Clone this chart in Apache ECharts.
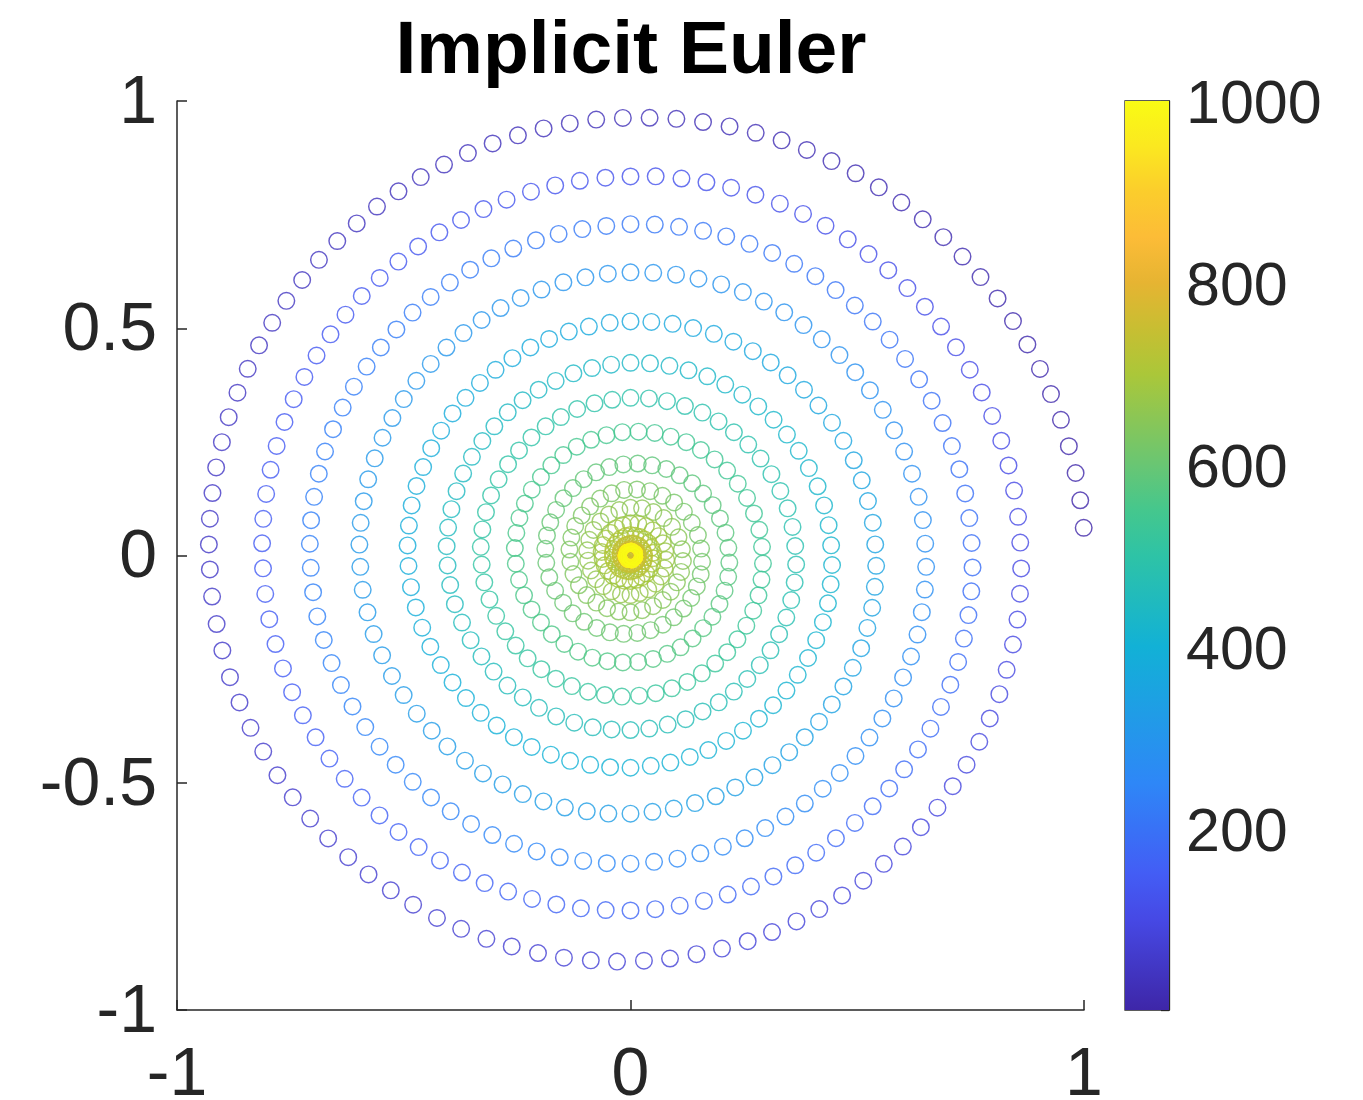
<!DOCTYPE html>
<html>
<head>
<meta charset="utf-8">
<script src="https://cdn.jsdelivr.net/npm/echarts@6/dist/echarts.min.js"></script>
<style>
html,body{margin:0;padding:0;background:#fff;}
#chart{width:1363px;height:1100px;}
</style>
</head>
<body>
<div id="chart"></div>
<script>
// ---- values ----
const titleText = 'Implicit Euler';
const xTicks = [-1, 0, 1];
const yTicks = [-1, -0.5, 0, 0.5, 1];
const colorbarTicks = [200, 400, 600, 800, 1000];
const colorRange = [1, 1000];

// spiral points: radius in thousandths of an axis unit, angle in degrees (counter-clockwise from +x, unwrapped)
const spiralRadius = [
999,997,996,994,993,991,990,989,987,986,984,983,982,980,979,977,976,974,973,972,970,969,967,966,964,963,962,960,959,957,956,955,953,952,950,949,947,946,945,943,942,940,939,937,936,935,933,932,930,929,928,
926,925,923,922,921,919,918,916,915,914,912,911,909,908,906,905,904,902,901,899,898,897,895,894,892,891,889,888,887,885,884,882,881,880,878,877,875,874,872,871,870,868,867,865,864,863,861,860,
858,857,856,855,854,853,852,851,850,849,848,847,846,845,844,843,842,841,840,839,838,837,836,834,833,832,831,830,829,828,827,826,825,824,823,822,821,820,819,818,817,816,815,814,813,812,811,
809,808,807,805,804,803,802,800,799,798,796,795,794,793,791,790,789,787,786,785,784,782,781,780,778,777,776,775,773,772,771,769,768,767,766,764,763,762,760,759,758,756,755,754,753,
751,750,749,748,747,746,745,744,743,742,741,739,738,737,736,735,734,733,732,731,730,729,727,726,725,724,723,722,721,720,719,718,716,715,714,713,712,711,710,709,708,707,706,
704,703,702,700,699,698,696,695,694,692,691,690,688,687,686,684,683,682,680,679,678,676,675,673,672,671,669,668,667,665,664,663,661,660,659,657,656,655,653,652,651,
649,648,647,645,644,642,641,640,638,637,635,634,633,631,630,629,627,626,624,623,622,620,619,617,616,615,613,612,611,609,608,606,605,604,602,601,599,598,597,
595,594,592,591,589,588,586,585,583,582,580,579,577,576,574,573,571,570,568,566,565,563,562,560,559,557,556,554,553,551,550,548,547,545,544,542,541,
539,538,536,535,534,532,531,529,528,526,525,524,522,521,519,518,516,515,514,512,511,509,508,506,505,504,502,501,499,498,496,495,494,492,491,
489,488,486,485,484,482,481,479,478,476,475,474,472,471,469,468,467,465,464,462,461,459,458,457,455,454,452,451,449,448,447,445,444,
442,441,440,439,437,436,435,434,432,431,430,429,427,426,425,424,422,421,420,418,417,416,415,413,412,411,410,408,407,406,405,
403,402,401,399,398,396,395,394,392,391,390,388,387,385,384,383,381,380,378,377,376,374,373,372,370,369,367,366,365,
363,362,361,359,358,357,356,354,353,352,350,349,348,347,345,344,343,341,340,339,337,336,335,334,332,331,330,
328,327,325,324,322,321,320,318,317,315,314,312,311,309,308,306,305,303,302,301,299,298,296,295,293,292,
290,289,287,286,284,283,281,279,278,276,275,273,272,270,269,267,266,264,262,261,259,258,256,255,
253,251,250,248,246,245,243,241,240,238,236,235,233,231,230,228,226,225,223,221,220,218,
216,215,213,212,210,209,207,206,204,203,201,200,198,197,195,194,192,191,189,188,
186,185,183,181,180,178,176,175,173,171,170,168,166,165,163,161,160,158,
156,155,153,152,151,149,148,146,145,143,142,140,139,138,136,135,
133,132,131,130,128,127,126,125,123,122,121,119,118,117,116,
114,113,111,110,108,107,105,103,102,100,99,97,96,
94,93,92,90,89,88,87,85,84,83,81,80,79,
77,76,75,74,73,72,71,69,68,67,66,65,64,
62,61,60,59,58,57,56,55,54,53,52,51,50,
50,49,48,47,46,45,45,44,43,42,41,40,39,
39,38,37,37,36,35,35,34,33,32,32,31,30,
30,29,28,28,27,27,26,25,25,24,24,23,22,
22,21,21,20,20,19,19,19,18,18,17,17,16,
16,15,15,15,14,14,14,13,13,12,12,12,11,
11,11,10,10,10,9,9,9,8,8,8,8,7,
7,7,6,6,6,6,6,5,5,5,5,4,4,
4,4,4,3,3,3,3,3,3,3,2,2,2
];
const spiralAngle = [
3.5,7,10.5,14,17.5,21,24.5,28,31.5,35,38.5,42,45.5,49,52.5,56,59.5,63,66.5,70,73.5,77,80.5,84,87.5,91,94.5,98,101.5,105,108.5,112,115.5,119,122.5,126,129.5,133,136.5,140,143.5,147,150.5,154,157.5,161,164.5,168,171.5,175,178.5,
181.9,185.6,189.4,193.1,196.9,200.6,204.4,208.1,211.9,215.6,219.4,223.1,226.9,230.6,234.4,238.1,241.9,245.6,249.4,253.1,256.9,260.6,264.4,268.1,271.9,275.6,279.4,283.1,286.9,290.6,294.4,298.1,301.9,305.6,309.4,313.1,316.9,320.6,324.4,328.1,331.9,335.6,339.4,343.1,346.9,350.6,354.4,358.1,
361.9,365.7,369.6,373.4,377.2,381.1,384.9,388.7,392.6,396.4,400.2,404.0,407.9,411.7,415.5,419.4,423.2,427.0,430.9,434.7,438.5,442.3,446.2,450.0,453.8,457.7,461.5,465.3,469.2,473.0,476.8,480.6,484.5,488.3,492.1,496.0,499.8,503.6,507.5,511.3,515.1,518.9,522.8,526.6,530.4,534.3,538.1,
542,546,550,554,558,562,566,570,574,578,582,586,590,594,598,602,606,610,614,618,622,626,630,634,638,642,646,650,654,658,662,666,670,674,678,682,686,690,694,698,702,706,710,714,718,
722.1,726.3,730.5,734.7,738.8,743.0,747.2,751.4,755.6,759.8,764.0,768.1,772.3,776.5,780.7,784.9,789.1,793.3,797.4,801.6,805.8,810.0,814.2,818.4,822.6,826.7,830.9,835.1,839.3,843.5,847.7,851.9,856.0,860.2,864.4,868.6,872.8,877.0,881.2,885.3,889.5,893.7,897.9,
902.2,906.6,911.0,915.4,919.8,924.1,928.5,932.9,937.3,941.7,946.1,950.5,954.9,959.3,963.7,968.0,972.4,976.8,981.2,985.6,990.0,994.4,998.8,1003.2,1007.6,1012.0,1016.3,1020.7,1025.1,1029.5,1033.9,1038.3,1042.7,1047.1,1051.5,1055.9,1060.2,1064.6,1069.0,1073.4,1077.8,
1082.3,1086.9,1091.5,1096.2,1100.8,1105.4,1110.0,1114.6,1119.2,1123.8,1128.5,1133.1,1137.7,1142.3,1146.9,1151.5,1156.2,1160.8,1165.4,1170.0,1174.6,1179.2,1183.8,1188.5,1193.1,1197.7,1202.3,1206.9,1211.5,1216.2,1220.8,1225.4,1230.0,1234.6,1239.2,1243.8,1248.5,1253.1,1257.7,
1262.4,1267.3,1272.2,1277.0,1281.9,1286.8,1291.6,1296.5,1301.4,1306.2,1311.1,1315.9,1320.8,1325.7,1330.5,1335.4,1340.3,1345.1,1350.0,1354.9,1359.7,1364.6,1369.5,1374.3,1379.2,1384.1,1388.9,1393.8,1398.6,1403.5,1408.4,1413.2,1418.1,1423.0,1427.8,1432.7,1437.6,
1442.6,1447.7,1452.9,1458.0,1463.1,1468.3,1473.4,1478.6,1483.7,1488.9,1494.0,1499.1,1504.3,1509.4,1514.6,1519.7,1524.9,1530.0,1535.1,1540.3,1545.4,1550.6,1555.7,1560.9,1566.0,1571.1,1576.3,1581.4,1586.6,1591.7,1596.9,1602.0,1607.1,1612.3,1617.4,
1622.7,1628.2,1633.6,1639.1,1644.5,1650.0,1655.5,1660.9,1666.4,1671.8,1677.3,1682.7,1688.2,1693.6,1699.1,1704.5,1710.0,1715.5,1720.9,1726.4,1731.8,1737.3,1742.7,1748.2,1753.6,1759.1,1764.5,1770.0,1775.5,1780.9,1786.4,1791.8,1797.3,
1802.9,1808.7,1814.5,1820.3,1826.1,1831.9,1837.7,1843.5,1849.4,1855.2,1861.0,1866.8,1872.6,1878.4,1884.2,1890.0,1895.8,1901.6,1907.4,1913.2,1919.0,1924.8,1930.6,1936.5,1942.3,1948.1,1953.9,1959.7,1965.5,1971.3,1977.1,
1983.1,1989.3,1995.5,2001.7,2007.9,2014.1,2020.3,2026.6,2032.8,2039.0,2045.2,2051.4,2057.6,2063.8,2070.0,2076.2,2082.4,2088.6,2094.8,2101.0,2107.2,2113.4,2119.7,2125.9,2132.1,2138.3,2144.5,2150.7,2156.9,
2163.3,2170,2176.7,2183.3,2190,2196.7,2203.3,2210,2216.7,2223.3,2230,2236.7,2243.3,2250,2256.7,2263.3,2270,2276.7,2283.3,2290,2296.7,2303.3,2310,2316.7,2323.3,2330,2336.7,
2343.5,2350.4,2357.3,2364.2,2371.2,2378.1,2385.0,2391.9,2398.8,2405.8,2412.7,2419.6,2426.5,2433.5,2440.4,2447.3,2454.2,2461.2,2468.1,2475.0,2481.9,2488.8,2495.8,2502.7,2509.6,2516.5,
2523.8,2531.3,2538.8,2546.3,2553.8,2561.3,2568.8,2576.3,2583.8,2591.3,2598.8,2606.3,2613.8,2621.3,2628.8,2636.3,2643.8,2651.3,2658.8,2666.3,2673.8,2681.3,2688.8,2696.3,
2704.1,2712.3,2720.5,2728.6,2736.8,2745.0,2753.2,2761.4,2769.5,2777.7,2785.9,2794.1,2802.3,2810.5,2818.6,2826.8,2835.0,2843.2,2851.4,2859.5,2867.7,2875.9,
2884.5,2893.5,2902.5,2911.5,2920.5,2929.5,2938.5,2947.5,2956.5,2965.5,2974.5,2983.5,2992.5,3001.5,3010.5,3019.5,3028.5,3037.5,3046.5,3055.5,
3065,3075,3085,3095,3105,3115,3125,3135,3145,3155,3165,3175,3185,3195,3205,3215,3225,3235,
3245.6,3256.9,3268.1,3279.4,3290.6,3301.9,3313.1,3324.4,3335.6,3346.9,3358.1,3369.4,3380.6,3391.9,3403.1,3414.4,
3426,3438,3450,3462,3474,3486,3498,3510,3522,3534,3546,3558,3570,3582,3594,
3606.9,3620.8,3634.6,3648.5,3662.3,3676.2,3690,3703.8,3717.7,3731.5,3745.4,3759.2,3773.1,
3786.9,3800.8,3814.6,3828.5,3842.3,3856.2,3870,3883.8,3897.7,3911.5,3925.4,3939.2,3953.1,
3966.9,3980.8,3994.6,4008.5,4022.3,4036.2,4050,4063.8,4077.7,4091.5,4105.4,4119.2,4133.1,
4146.9,4160.8,4174.6,4188.5,4202.3,4216.2,4230,4243.8,4257.7,4271.5,4285.4,4299.2,4313.1,
4326.9,4340.8,4354.6,4368.5,4382.3,4396.2,4410,4423.8,4437.7,4451.5,4465.4,4479.2,4493.1,
4506.9,4520.8,4534.6,4548.5,4562.3,4576.2,4590,4603.8,4617.7,4631.5,4645.4,4659.2,4673.1,
4686.9,4700.8,4714.6,4728.5,4742.3,4756.2,4770,4783.8,4797.7,4811.5,4825.4,4839.2,4853.1,
4866.9,4880.8,4894.6,4908.5,4922.3,4936.2,4950,4963.8,4977.7,4991.5,5005.4,5019.2,5033.1,
5046.9,5060.8,5074.6,5088.5,5102.3,5116.2,5130,5143.8,5157.7,5171.5,5185.4,5199.2,5213.1,
5226.9,5240.8,5254.6,5268.5,5282.3,5296.2,5310,5323.8,5337.7,5351.5,5365.4,5379.2,5393.1,
5406.9,5420.8,5434.6,5448.5,5462.3,5476.2,5490,5503.8,5517.7,5531.5,5545.4,5559.2,5573.1,
5586.9,5600.8,5614.6,5628.5,5642.3,5656.2,5670,5683.8,5697.7,5711.5,5725.4,5739.2,5753.1
];
// points that have settled at the origin (they pile up under the yellow ring)
const centreRadius = [
8,3,6,4,9,8,3,6,4,9,8,3,6,4,9,8,3,6,4,9,8,3,6,4,9,8,3,6,4,9,
8,3,6,4,9,8,3,6,4,9,8,3,6,4,9,8,3,6,4,9,8,3,6,4,9,8,3,6,4,9,
8,3,6,4,9,8,3,6,4,9,8,3,6,4,9,8,3,6,4,9,8,3,6,4,9,8,3,6,4,9,
8,3,6,4,9,8,3,6,4,9,8,3,6,4,9,8,3,6,4,9,8,3,6,4,9,8,3,6,4,9,
8,3,6,4,9,8,3,6,4,9,8,3,6,4,9,8,3,6,4,9,8,3,6,4,9,8,3,6,4,9,
8,3,6,4,9,8,3,6,4,9,8,3,6,4,9,8,3,6,4,9,8,3,6,4,9,8,3,6,4,9,
8,3,6,4,9,8,3,6,4,9,8,3,6,4,9,
8,3
];
const centreAngle = [
30,81,133,184,236,287,339,30,81,133,184,236,287,339,30,81,133,184,236,287,339,30,81,133,184,236,287,339,
30,81,133,184,236,287,339,30,81,133,184,236,287,339,30,81,133,184,236,287,339,30,81,133,184,236,287,339,
30,81,133,184,236,287,339,30,81,133,184,236,287,339,30,81,133,184,236,287,339,30,81,133,184,236,287,339,
30,81,133,184,236,287,339,30,81,133,184,236,287,339,30,81,133,184,236,287,339,30,81,133,184,236,287,339,
30,81,133,184,236,287,339,30,81,133,184,236,287,339,30,81,133,184,236,287,339,30,81,133,184,236,287,339,
30,81,133,184,236,287,339,30,81,133,184,236,287,339,30,81,133,184,236,287,339,30,81,133,184,236,287,339,
30,81,133,184,236,287,339,30,81,133,184,236,287,339,30,81,133,184,236,287,339,30,81,133,184,236,287,339,
30
];
// parula-like colour map (evenly spaced from low to high)
const parula = ['#3e26a8','#4238c6','#4649e5','#435df5','#3872f6','#2e87f7','#2595ec','#1ba3e1','#12b1d6','#20babe',
  '#2ec3a6','#45c78d','#69c673','#8ac656','#abc739','#c8be32','#e6b432','#fcbc37','#fbcd2c','#fbe820','#f9fb14'];

// ---- build ----
const radius = spiralRadius.concat(centreRadius);
const angle = spiralAngle.concat(centreAngle);
if (spiralRadius.length !== spiralAngle.length || centreRadius.length !== centreAngle.length || radius.length !== colorRange[1]) {
  throw new Error('length mismatch ' + spiralRadius.length + ' ' + spiralAngle.length + ' ' + centreRadius.length + ' ' + centreAngle.length);
}
const points = radius.map((r, i) => [r, angle[i], i + 1]);

const FONT = '"Liberation Sans", Arial, Helvetica, sans-serif';
const AX = '#262626';
const RING = 'path://M0,-10A10,10,0,1,1,0,10A10,10,0,1,1,0,-10ZM0,-8.4A8.4,8.4,0,1,0,0,8.4A8.4,8.4,0,1,0,0,-8.4Z';

const plot = {left: 177, top: 101, width: 907, height: 909};
const cbar = {left: 1125, top: 101, width: 44, height: 909};

const chart = echarts.init(document.getElementById('chart'), null, {renderer: 'canvas'});
const gradStops = parula.map((c, i) => ({offset: i / (parula.length - 1), color: c}));

chart.setOption({
  animation: false,
  backgroundColor: '#ffffff',
  title: {
    text: titleText, left: 631, top: 15, padding: 0, textAlign: 'center',
    textStyle: {fontFamily: FONT, fontSize: 75, fontWeight: 'bold', color: '#000'}
  },
  grid: [
    Object.assign({outerBoundsMode: 'none', containLabel: false}, plot),
    Object.assign({outerBoundsMode: 'none', containLabel: false, show: true, borderColor: AX, borderWidth: 1.3, backgroundColor: 'transparent'}, cbar)
  ],
  xAxis: [
    {gridIndex: 0, type: 'value', min: xTicks[0], max: xTicks[xTicks.length - 1], interval: xTicks[1] - xTicks[0],
     axisLine: {show: true, onZero: false, lineStyle: {color: AX, width: 1.5}},
     axisTick: {show: true, inside: true, length: 10, lineStyle: {color: AX, width: 1.5}},
     axisLabel: {fontFamily: FONT, fontSize: 68, color: AX, margin: 32, showMinLabel: true, showMaxLabel: true},
     splitLine: {show: false}},
    {gridIndex: 1, type: 'category', data: ['c'], show: false}
  ],
  yAxis: [
    {gridIndex: 0, type: 'value', min: yTicks[0], max: yTicks[yTicks.length - 1], interval: yTicks[1] - yTicks[0],
     axisLine: {show: true, onZero: false, lineStyle: {color: AX, width: 1.5}},
     axisTick: {show: true, inside: true, length: 10, lineStyle: {color: AX, width: 1.5}},
     axisLabel: {fontFamily: FONT, fontSize: 68, color: AX, margin: 20, verticalAlign: 'top', lineHeight: 6,
                 showMinLabel: true, showMaxLabel: true},
     splitLine: {show: false}},
    {gridIndex: 1, type: 'value', position: 'right', min: 0, max: colorbarTicks[colorbarTicks.length - 1],
     interval: colorbarTicks[1] - colorbarTicks[0],
     axisLine: {show: true, lineStyle: {color: AX, width: 1.3}},
     axisTick: {show: true, inside: true, length: 8, lineStyle: {color: AX, width: 1.3}},
     axisLabel: {fontFamily: FONT, fontSize: 61, color: AX, margin: 17, verticalAlign: 'top', lineHeight: 11,
                 formatter: v => (colorbarTicks.indexOf(v) >= 0 ? String(v) : '')},
     splitLine: {show: false}}
  ],
  polar: {center: [plot.left + plot.width / 2, plot.top + plot.height / 2], radius: plot.height / 2},
  angleAxis: {type: 'value', min: 0, max: 360, startAngle: 0, clockwise: false, show: false},
  radiusAxis: {type: 'value', min: 0, max: 1000, show: false},
  visualMap: {type: 'continuous', show: false, dimension: 2, min: colorRange[0], max: colorRange[1],
              seriesIndex: 0, inRange: {color: parula}},
  series: [
    {type: 'scatter', coordinateSystem: 'polar', data: points, symbol: RING, symbolSize: 18,
     silent: true, clip: false, progressive: 0},
    {type: 'bar', xAxisIndex: 1, yAxisIndex: 1, data: [colorRange[1]], barWidth: '100%', silent: true,
     itemStyle: {color: new echarts.graphic.LinearGradient(0, 1, 0, 0, gradStops)}}
  ]
});
</script>
</body>
</html>
